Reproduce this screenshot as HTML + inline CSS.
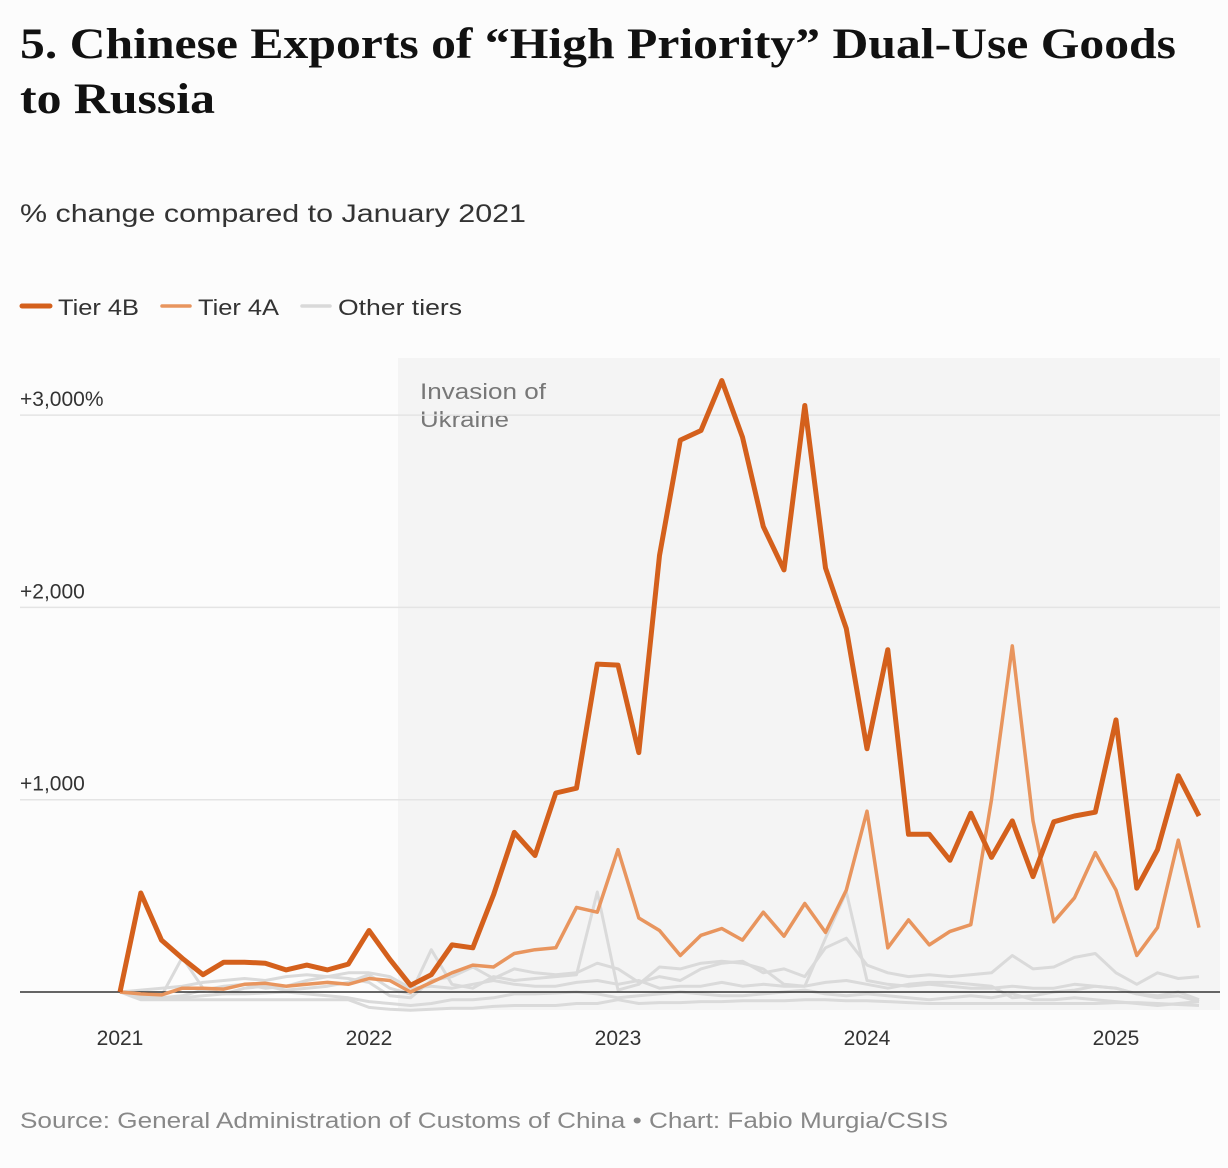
<!DOCTYPE html>
<html><head><meta charset="utf-8">
<style>
body{margin:0;background:#fcfcfc;width:1228px;height:1168px;overflow:hidden;font-family:"Liberation Sans",sans-serif;}
svg{position:absolute;left:0;top:0}
</style></head>
<body>
<svg width="1228" height="1168">
<rect x="0" y="0" width="1228" height="1168" fill="#fcfcfc"/>
<text x="20" y="58" font-family="Liberation Serif, serif" font-weight="bold" font-size="43" fill="#111" textLength="1156" lengthAdjust="spacingAndGlyphs">5. Chinese Exports of “High Priority” Dual-Use Goods</text>
<text x="20" y="113" font-family="Liberation Serif, serif" font-weight="bold" font-size="43" fill="#111" textLength="195" lengthAdjust="spacingAndGlyphs">to Russia</text>
<text x="20" y="222" font-size="25" fill="#333" textLength="506" lengthAdjust="spacingAndGlyphs">% change compared to January 2021</text>
<g>
<line x1="22" y1="306" x2="50" y2="306" stroke="#d4601c" stroke-width="5" stroke-linecap="round"/>
<text x="58" y="315" font-size="22" fill="#333" textLength="81" lengthAdjust="spacingAndGlyphs">Tier 4B</text>
<line x1="162" y1="306" x2="190" y2="306" stroke="#e8955e" stroke-width="3.5" stroke-linecap="round"/>
<text x="198" y="315" font-size="22" fill="#333" textLength="81" lengthAdjust="spacingAndGlyphs">Tier 4A</text>
<line x1="302" y1="306" x2="330" y2="306" stroke="#d9d9d9" stroke-width="3.5" stroke-linecap="round"/>
<text x="338" y="315" font-size="22" fill="#333" textLength="124" lengthAdjust="spacingAndGlyphs">Other tiers</text>
</g>
<rect x="398" y="358" width="822" height="652" fill="#f4f4f4"/>
<text x="420" y="399" font-size="22" fill="#777" textLength="126" lengthAdjust="spacingAndGlyphs">Invasion of</text>
<text x="420" y="427" font-size="22" fill="#777" textLength="89" lengthAdjust="spacingAndGlyphs">Ukraine</text>
<g id="grid"></g>
<g id="others"></g>
<g id="series"></g>
<g id="xaxis"></g>
<text x="20" y="1128" font-size="22" fill="#888" textLength="928" lengthAdjust="spacingAndGlyphs">Source: General Administration of Customs of China • Chart: Fabio Murgia/CSIS</text>
</svg>
<script>
const tier4B=[0,515,270,175,90,155,155,150,115,140,115,145,320,170,35,90,245,230,505,830,710,1035,1060,1705,1700,1245,2270,2870,2920,3180,2885,2420,2195,3050,2205,1890,1265,1780,820,820,685,930,700,890,600,885,915,935,1415,540,740,1125,915];
const tier4A=[0,-10,-15,20,20,15,40,45,30,40,50,40,70,60,0,50,100,140,130,200,220,230,440,415,740,385,320,190,295,330,270,415,290,460,310,530,940,230,375,245,315,350,1000,1800,890,365,490,725,530,190,335,790,335];
const other1=[0,-30,-20,180,20,-10,20,30,10,20,30,50,90,20,-10,220,40,20,80,60,70,80,90,520,10,40,130,120,150,160,150,120,40,30,280,520,60,40,30,40,30,20,20,30,20,20,40,30,20,-10,-30,-20,-50];
const other2=[0,10,20,30,50,60,70,60,80,90,80,70,50,-20,-30,60,80,130,70,120,100,90,100,150,120,50,80,60,120,150,160,100,120,80,230,280,140,100,80,90,80,90,100,190,120,130,180,200,100,40,100,70,80];
const other3=[0,-20,-30,-20,10,30,40,20,30,60,80,100,100,80,20,30,20,40,60,40,30,30,50,60,40,60,20,30,30,50,30,40,30,30,50,60,40,20,40,50,50,40,30,-30,-20,0,10,30,20,-10,-20,0,-40];
const other4=[0,-20,-30,-30,-20,-10,-10,-5,0,-10,-20,-30,-50,-60,-70,-60,-40,-40,-30,-10,-10,-5,0,-10,-30,-20,-10,0,-10,-20,-20,-10,0,10,-10,-20,-10,-20,-30,-40,-30,-20,-30,-10,-40,-40,-30,-40,-50,-60,-70,-60,-50];
const other5=[0,-40,-40,-40,-40,-40,-40,-40,-40,-40,-40,-40,-80,-90,-95,-90,-85,-85,-75,-70,-70,-70,-60,-60,-40,-60,-55,-55,-50,-50,-45,-45,-45,-40,-40,-45,-45,-50,-55,-60,-60,-60,-60,-60,-60,-60,-60,-60,-55,-55,-60,-65,-70];
const yTicks=[1000,2000,3000];
const yTickLabels=["+1,000","+2,000","+3,000%"];
const xTickYears=[2021,2022,2023,2024,2025];

const NS="http://www.w3.org/2000/svg";
function xScale(i){return 120+i*(996/48);}
function yScale(v){return 992-v*0.1923;}
function mk(tag,attrs,parent){const e=document.createElementNS(NS,tag);for(const k in attrs)e.setAttribute(k,attrs[k]);parent.appendChild(e);return e;}
const grid=document.getElementById('grid');
yTicks.forEach((t,i)=>{
  const l=mk('line',{x1:20,x2:1220,y1:yScale(t),y2:yScale(t),stroke:'#e4e4e4','stroke-width':1.5},grid);
  
  
  const tx=mk('text',{x:20,y:yScale(t)-9,'font-size':21,fill:'#333'},grid);
  tx.textContent=yTickLabels[i];
  
  
});
function pathOf(arr){return arr.map((v,i)=>(i?'L':'M')+xScale(i).toFixed(1)+','+yScale(v).toFixed(1)).join(' ');}
const og=document.getElementById('others');
[other5,other4,other3,other2,other1].forEach((s,k)=>{
  const p=mk('path',{d:pathOf(s),fill:'none',stroke:'#dadada','stroke-width':3,'stroke-linejoin':'round'},og);
  
  
});
const zl=mk('line',{x1:20,x2:1220,y1:yScale(0),y2:yScale(0),stroke:'#333','stroke-width':1.5},og);


const sg=document.getElementById('series');
const pa=mk('path',{d:pathOf(tier4A),fill:'none',stroke:'#e8955e','stroke-width':3.5,'stroke-linejoin':'round'},sg);


const pb=mk('path',{d:pathOf(tier4B),fill:'none',stroke:'#d4601c','stroke-width':5,'stroke-linejoin':'round'},sg);


const xg=document.getElementById('xaxis');
xTickYears.forEach((y,i)=>{
  const t=mk('text',{x:xScale(i*12),y:1045,'font-size':21,fill:'#333','text-anchor':'middle'},xg);
  t.textContent=y;
  
  
});
</script>
</body></html>
